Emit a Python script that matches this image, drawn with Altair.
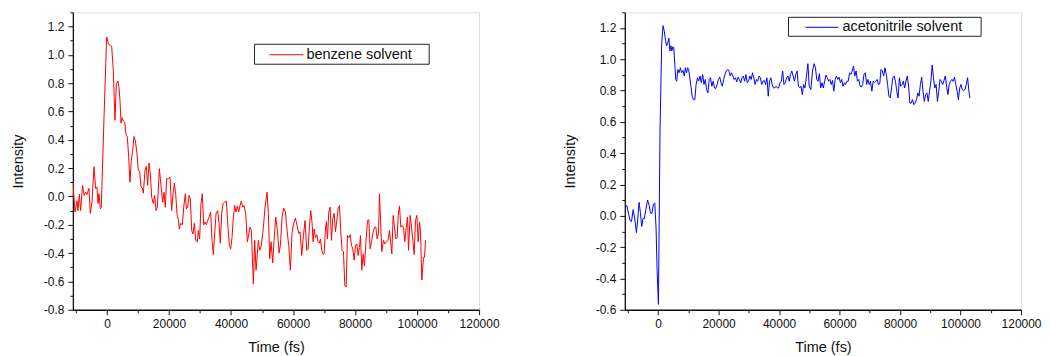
import altair as alt
import pandas as pd

# ---------------- data ----------------
benzene_time = [-10970, -10320, -9680, -9360, -8920, -8500, -7900, -7350, -6900, -6450,
                -5810, -5380, -4840, -4190, -3660, -3230, -2900, -2580, -2150, -1830,
                -970, -110, 430, 860, 1510, 2040, 2580, 3010, 3550, 3870,
                4190, 4520, 4840, 5270, 5700, 6130, 6560, 6990, 7420, 7850,
                8280, 8710, 9140, 9680, 10110, 10540, 10970, 11400, 11720, 12260,
                12690, 13120, 13550, 13980, 14410, 14950, 15380, 15810, 16240, 16890,
                17420, 17960, 18390, 18820, 19250, 19790, 20330, 20860, 21300, 21730,
                22160, 22590, 23020, 23340, 23770, 24310, 24740, 25280, 25600, 26030,
                26460, 26890, 27320, 27750, 28180, 28610, 29140, 29460, 29890, 30320,
                30750, 31180, 31610, 32040, 32470, 32900, 33440, 33870, 34300, 34730,
                35160, 35700, 36130, 36560, 36990, 37420, 37960, 38490, 39030, 39460,
                39890, 40320, 40750, 41180, 41610, 42040, 42470, 42900, 43330, 43760,
                44190, 44730, 45270, 46130, 46570, 47200, 47640, 48070, 48500, 48820,
                49250, 49790, 50440, 50980, 51620, 52050, 52480, 52910, 53450, 53880,
                54420, 54960, 55490, 55920, 56460, 57000, 57540, 58080, 58610, 59150,
                59690, 60330, 60760, 61300, 61840, 62270, 62810, 63350, 63880, 64420,
                64850, 65280, 65710, 66140, 66470, 66790, 67220, 67650, 68080, 68510,
                68840, 69270, 69700, 70020, 70450, 70770, 71100, 71530, 71960, 72390,
                72820, 73250, 73680, 74110, 74540, 74970, 75400, 75830, 76260, 76700,
                77130, 77560, 77990, 78420, 78850, 79280, 79710, 80140, 80570, 81000,
                81430, 81750, 82180, 82610, 83040, 83470, 84010, 84440, 84870, 85300,
                85840, 86270, 86700, 87130, 87560, 87880, 88310, 88630, 89170, 89600,
                90140, 90670, 91110, 91540, 91860, 92290, 92720, 93150, 93580, 93900,
                94330, 94760, 95190, 95620, 96050, 96490, 96920, 97240, 97780, 98210,
                98640, 99070, 99500, 99930, 100360, 100790, 101110, 101540, 102080, 102400,
                102720]
benzene_intensity = [0.10, -0.11, -0.03, -0.10, 0.014, -0.10, 0.078, 0.007, 0.03, 0.014,
                     0.057, -0.12, -0.04, 0.21, 0.057, 0.066, -0.05, 0.02, -0.087, -0.076,
                     0.55, 1.126, 1.083, 1.067, 1.06, 0.89, 0.537, 0.796, 0.815, 0.77,
                     0.68, 0.518, 0.556, 0.532, 0.525, 0.438, 0.42, 0.28, 0.10, 0.254,
                     0.325, 0.424, 0.396, 0.30, 0.184, 0.179, 0.066, 0.059, 0.023, 0.184,
                     0.212, 0.078, 0.235, 0.16, -0.005, -0.05, 0.007, -0.10, -0.076, 0.196,
                     0.078, -0.04, 0.03, -0.076, 0.125, 0.125, 0.136, -0.10, 0.019, 0.094,
                     0.019, -0.122, -0.17, -0.23, -0.19, -0.20, -0.076, 0.019, -0.087, -0.076,
                     0.007, -0.016, -0.24, -0.265, -0.19, -0.31, -0.32, -0.24, -0.30, -0.05,
                     0.019, -0.20, -0.18, -0.20, -0.17, -0.146, -0.11, -0.31, -0.41, -0.265,
                     -0.122, -0.10, -0.19, -0.33, -0.122, -0.05, -0.04, -0.033, -0.22, -0.346,
                     -0.37, -0.29, -0.146, -0.064, -0.11, -0.068, -0.11, -0.064, -0.033, -0.076,
                     -0.064, -0.12, -0.32, -0.217, -0.24, -0.617, -0.31, -0.52, -0.405, -0.31,
                     -0.38, -0.346, -0.217, -0.075, 0.03, -0.12, -0.44, -0.32, -0.47, -0.31,
                     -0.146, -0.24, -0.40, -0.346, -0.146, -0.083, -0.11, -0.24, -0.346, -0.52,
                     -0.252, -0.18, -0.153, -0.205, -0.26, -0.25, -0.417, -0.276, -0.17, -0.38,
                     -0.37, -0.217, -0.099, -0.19, -0.32, -0.23, -0.29, -0.27, -0.32, -0.33,
                     -0.30, -0.38, -0.41, -0.405, -0.23, -0.177, -0.30, -0.11, -0.075, -0.31,
                     -0.157, -0.12, -0.25, -0.17, -0.087, -0.064, -0.25, -0.38, -0.39, -0.63,
                     -0.64, -0.276, -0.29, -0.27, -0.346, -0.37, -0.45, -0.346, -0.335, -0.417,
                     -0.36, -0.276, -0.52, -0.405, -0.49, -0.335, -0.17, -0.165, -0.37, -0.32,
                     -0.25, -0.217, -0.217, -0.30, -0.26, 0.019, -0.217, -0.39, -0.31, -0.335,
                     -0.32, -0.31, -0.24, -0.335, -0.405, -0.134, -0.217, -0.30, -0.29, -0.134,
                     -0.068, -0.217, -0.205, -0.217, -0.32, -0.217, -0.146, -0.38, -0.134, -0.217,
                     -0.31, -0.41, -0.17, -0.134, -0.32, -0.18, -0.25, -0.59, -0.43, -0.43,
                     -0.31]

acn_time = [-10730, -10300, -9760, -9210, -8780, -8240, -7700, -7150, -6720, -6290,
            -5850, -5420, -4990, -4550, -4010, -3470, -2930, -2490, -2060, -1520,
            -1090, -650, -330, 110, 650, 1190, 1630, 2060, 2490, 2820,
            3250, 3580, 3900, 4230, 4550, 4880, 5200, 5530, 5850, 6180,
            6500, 6940, 7370, 7800, 8240, 8670, 9000, 9430, 9760, 10080,
            10410, 10840, 11280, 11710, 12140, 12570, 13010, 13440, 13870, 14310,
            14740, 15170, 15610, 16040, 16470, 16910, 17340, 17780, 18210, 18640,
            19080, 19510, 19940, 20380, 20810, 21240, 21680, 22110, 22540, 22980,
            23410, 23850, 24280, 24710, 25150, 25580, 26010, 26450, 26880, 27320,
            27750, 28180, 28620, 29050, 29480, 29920, 30350, 30790, 31220, 31650,
            32090, 32520, 32950, 33390, 33820, 34250, 34690, 35120, 35550, 35990,
            36420, 36850, 37290, 37720, 38150, 38590, 39020, 39460, 39890, 40320,
            40750, 41190, 41620, 42050, 42490, 42920, 43360, 43790, 44220, 44650,
            45090, 45520, 45950, 46390, 46820, 47260, 47690, 48120, 48560, 48990,
            49540, 49970, 50510, 51060, 51600, 52030, 52460, 52900, 53330, 53760,
            54200, 54630, 55060, 55500, 55930, 56370, 56800, 57230, 57670, 58100,
            58540, 58970, 59400, 59840, 60270, 60700, 61140, 61570, 62010, 62440,
            62870, 63310, 63740, 64170, 64610, 65040, 65480, 65910, 66340, 66780,
            67210, 67640, 68080, 68510, 68940, 69380, 69810, 70240, 70680, 71110,
            71540, 71980, 72410, 72840, 73280, 73710, 74150, 74580, 75010, 75450,
            75880, 76310, 76750, 77180, 77620, 78050, 78480, 78920, 79350, 79780,
            80220, 80650, 81080, 81520, 81950, 82380, 82820, 83250, 83680, 84120,
            84550, 84980, 85420, 85850, 86290, 86720, 87150, 87590, 88020, 88450,
            88890, 89320, 89750, 90190, 90620, 91050, 91490, 91920, 92360, 92790,
            93220, 93660, 94090, 94520, 94960, 95390, 95820, 96260, 96690, 97130,
            97560, 97990, 98430, 98860, 99290, 99730, 100160, 100590, 101030, 101460,
            101890, 102330, 102760, 103090]
acn_intensity = [0.06, 0.065, 0.011, -0.032, -0.036, 0.039, -0.021, -0.107, -0.021, 0.086,
                 0.022, -0.068, -0.017, -0.017, 0.043, 0.101, 0.065, 0.017, 0.015, 0.075,
                 0.082, -0.086, -0.344, -0.565, 0.55, 1.10, 1.215, 1.179, 1.118, 1.086,
                 1.108, 1.135, 1.054, 1.086, 1.054, 1.08, 1.075, 0.968, 0.87, 0.86,
                 0.935, 0.914, 0.946, 0.914, 0.929, 0.893, 0.946, 0.914, 0.946, 0.935,
                 0.893, 0.828, 0.764, 0.742, 0.742, 0.839, 0.882, 0.86, 0.893, 0.85,
                 0.903, 0.839, 0.871, 0.806, 0.785, 0.871, 0.882, 0.828, 0.86, 0.817,
                 0.813, 0.839, 0.871, 0.886, 0.85, 0.828, 0.871, 0.903, 0.925, 0.935,
                 0.929, 0.893, 0.914, 0.893, 0.871, 0.882, 0.856, 0.886, 0.871, 0.85,
                 0.882, 0.893, 0.86, 0.903, 0.85, 0.86, 0.893, 0.871, 0.914, 0.882,
                 0.839, 0.871, 0.86, 0.893, 0.882, 0.839, 0.86, 0.865, 0.839, 0.882,
                 0.764, 0.86, 0.882, 0.839, 0.817, 0.817, 0.828, 0.817, 0.817, 0.85,
                 0.86, 0.925, 0.839, 0.85, 0.882, 0.893, 0.86, 0.903, 0.925, 0.893,
                 0.86, 0.903, 0.925, 0.828, 0.817, 0.828, 0.774, 0.839, 0.817, 0.882,
                 0.972, 0.828, 0.806, 0.925, 0.972, 0.946, 0.871, 0.86, 0.908, 0.817,
                 0.85, 0.817, 0.86, 0.899, 0.882, 0.86, 0.871, 0.839, 0.865, 0.796,
                 0.871, 0.893, 0.871, 0.886, 0.85, 0.871, 0.828, 0.85, 0.839, 0.86,
                 0.86, 0.914, 0.903, 0.925, 0.957, 0.893, 0.925, 0.86, 0.871, 0.828,
                 0.822, 0.839, 0.903, 0.914, 0.839, 0.871, 0.839, 0.86, 0.796, 0.86,
                 0.85, 0.86, 0.871, 0.839, 0.843, 0.935, 0.925, 0.893, 0.946, 0.903,
                 0.839, 0.764, 0.753, 0.817, 0.882, 0.893, 0.86, 0.796, 0.753, 0.882,
                 0.828, 0.839, 0.86, 0.817, 0.86, 0.893, 0.828, 0.72, 0.72, 0.742,
                 0.71, 0.72, 0.742, 0.785, 0.764, 0.839, 0.886, 0.796, 0.731, 0.774,
                 0.785, 0.731, 0.796, 0.86, 0.964, 0.882, 0.817, 0.839, 0.731, 0.796,
                 0.871, 0.86, 0.839, 0.865, 0.893, 0.828, 0.774, 0.839, 0.86, 0.871,
                 0.86, 0.886, 0.839, 0.796, 0.742, 0.817, 0.839, 0.806, 0.8, 0.806,
                 0.839, 0.882, 0.796, 0.753]

series_names = ["benzene solvent", "acetonitrile solvent"]
series_colors = ["#ff0000", "#0000ff"]

x_ticks = [-10000, 0, 10000, 20000, 30000, 40000, 50000, 60000, 70000,
           80000, 90000, 100000, 110000, 120000]
left_y_ticks = [-0.8, -0.7, -0.6, -0.5, -0.4, -0.3, -0.2, -0.1, 0.0, 0.1, 0.2,
                0.3, 0.4, 0.5, 0.6, 0.7, 0.8, 0.9, 1.0, 1.1, 1.2, 1.3]
right_y_ticks = [-0.6, -0.5, -0.4, -0.3, -0.2, -0.1, 0.0, 0.1, 0.2,
                 0.3, 0.4, 0.5, 0.6, 0.7, 0.8, 0.9, 1.0, 1.1, 1.2, 1.3]

FONT = "Liberation Sans"
X_MAJOR = "datum.value % 20000 == 0"
Y_MAJOR = "abs(datum.value * 5 - round(datum.value * 5)) < 0.001"

common_axis = dict(
    grid=False, domainColor="#111111", domainWidth=1.3, tickColor="#111111",
    tickWidth=1, labelColor="#111111", labelFont=FONT, labelFontSize=12,
    titleFont=FONT, titleFontSize=14.5, titleFontWeight="normal",
    titleColor="#111111", labelOverlap=False, labelFlush=False,
)


def x_axis():
    return alt.Axis(
        values=x_ticks, title="Time (fs)", labelPadding=4, titlePadding=11,
        labelExpr=f"{X_MAJOR} ? format(datum.value, 'd') : ''",
        tickSize={"condition": {"test": X_MAJOR, "value": 5}, "value": 3},
        **common_axis)


def y_axis(ticks):
    return alt.Axis(
        values=ticks, title="Intensity", labelPadding=4, titlePadding=18,
        labelExpr=(f"{Y_MAJOR} ? (datum.value < -0.001 ? '-' : '') + "
                   "format(abs(datum.value), '.1f') : ''"),
        tickSize={"condition": {"test": Y_MAJOR, "value": 5}, "value": 3},
        **common_axis)


def panel(times, values, name, color, y_domain, y_ticks, width, height, box, line, text_x):
    df = pd.DataFrame({"time": times, "intensity": values})
    curve = alt.Chart(df).mark_line(color=color, strokeWidth=1, clip=True).encode(
        x=alt.X("time:Q", scale=alt.Scale(domain=[-11000, 120000], nice=False, zero=False),
                axis=x_axis()),
        y=alt.Y("intensity:Q", scale=alt.Scale(domain=y_domain, nice=False, zero=False),
                axis=y_axis(y_ticks)),
        order="time:Q",
    )
    lg = pd.DataFrame({"label": [name]})
    lbox = alt.Chart(lg).mark_rect(fill="white", stroke="#222222", strokeWidth=1).encode(
        x=alt.value(box[0]), x2=alt.value(box[1]), y=alt.value(box[2]), y2=alt.value(box[3]))
    lline = alt.Chart(lg).mark_rule(color=color, strokeWidth=1).encode(
        x=alt.value(line[0]), x2=alt.value(line[1]), y=alt.value(line[2]))
    ltext = alt.Chart(lg).mark_text(align="left", baseline="middle", font=FONT,
                                    fontSize=14.5, color="#111111").encode(
        x=alt.value(text_x), y=alt.value(line[2]), text="label:N")
    return alt.layer(curve, lbox, lline, ltext).properties(width=width, height=height)


left = panel(benzene_time, benzene_intensity, series_names[0], series_colors[0],
             [-0.8, 1.3], left_y_ticks, 407, 298,
             (182, 357, 32, 52), (197, 231, 42.5), 234)
right = panel(acn_time, acn_intensity, series_names[1], series_colors[1],
              [-0.6, 1.3], right_y_ticks, 397, 298,
              (164, 357, 5, 24), (181, 214, 15), 218)

chart = alt.hconcat(left, right, spacing=146, bounds="flush").properties(
    padding={"left": 1, "top": -3, "right": 0, "bottom": 0},
).configure_view(stroke=None).configure(background="white")

chart.save("out.html", embed_options={"renderer": "svg", "actions": False})
